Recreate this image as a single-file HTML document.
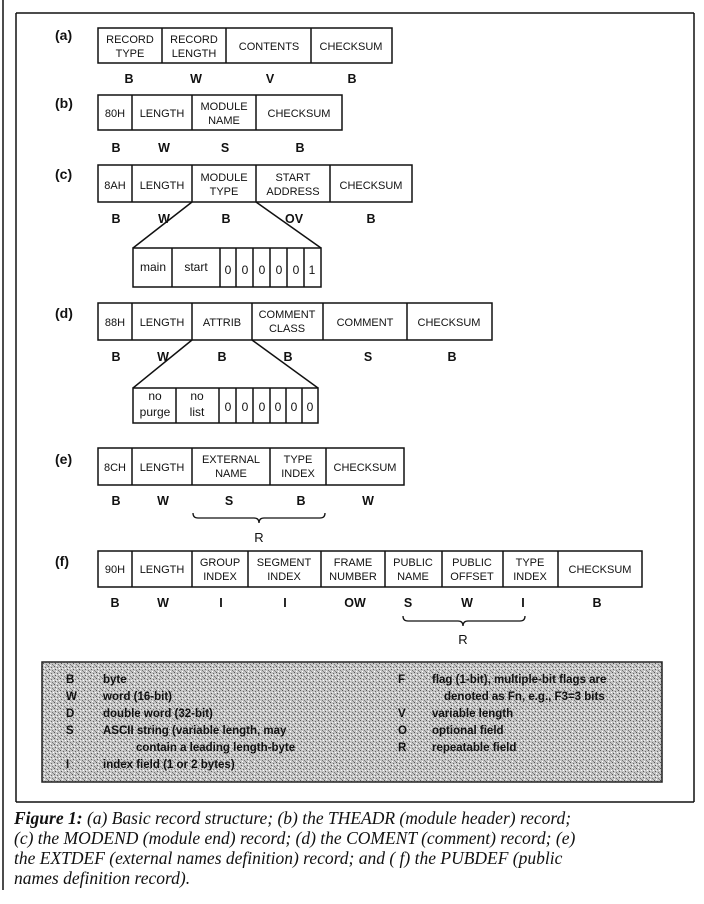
<!DOCTYPE html>
<html><head><meta charset="utf-8"><style>
html,body{margin:0;padding:0;background:#fff;}
svg{display:block;}
.c{font-family:"Liberation Sans",sans-serif;font-size:11px;fill:#111;text-anchor:middle;}
.l{font-family:"Liberation Sans",sans-serif;font-size:12.5px;font-weight:bold;fill:#111;text-anchor:middle;}
.p{font-family:"Liberation Sans",sans-serif;font-size:14px;font-weight:bold;fill:#111;}
.g{font-family:"Liberation Sans",sans-serif;font-size:11.5px;font-weight:bold;fill:#111;}
.cap{font-family:"Liberation Serif",serif;font-size:17.5px;font-style:italic;fill:#111;}
rect.b{fill:#fff;stroke:#111;stroke-width:1.5;}
line{stroke:#111;stroke-width:1.5;}
</style></head><body>
<svg width="704" height="904" viewBox="0 0 704 904" xmlns="http://www.w3.org/2000/svg">
<defs>
<pattern id="st" width="6" height="6" patternUnits="userSpaceOnUse">
<rect width="6" height="6" fill="#c4c4c4"/>
<rect x="0" y="0" width="1" height="1" fill="#555"/><rect x="3" y="1" width="1" height="1" fill="#666"/>
<rect x="1" y="3" width="1" height="1" fill="#555"/><rect x="4" y="4" width="1" height="1" fill="#777"/>
<rect x="5" y="2" width="1" height="1" fill="#fff"/><rect x="2" y="5" width="1" height="1" fill="#fff"/>
<rect x="2" y="2" width="1" height="1" fill="#eee"/><rect x="5" y="5" width="1" height="1" fill="#888"/>
</pattern>
</defs>
<!-- frame -->
<line x1="3" y1="0" x2="3" y2="890" stroke-width="2"/>
<line x1="16" y1="13" x2="694" y2="13"/>
<line x1="16" y1="13" x2="16" y2="802"/>
<line x1="694" y1="13" x2="694" y2="802"/>
<line x1="16" y1="802" x2="694" y2="802"/>

<!-- (a) -->
<text class="p" x="55" y="40">(a)</text>
<rect class="b" x="98" y="28" width="294" height="35"/>
<line x1="162" y1="28" x2="162" y2="63"/><line x1="226" y1="28" x2="226" y2="63"/><line x1="311" y1="28" x2="311" y2="63"/>
<text class="c" x="130" y="43">RECORD</text><text class="c" x="130" y="57">TYPE</text>
<text class="c" x="194" y="43">RECORD</text><text class="c" x="194" y="57">LENGTH</text>
<text class="c" x="269" y="50">CONTENTS</text><text class="c" x="351" y="50">CHECKSUM</text>
<text class="l" x="129" y="83">B</text><text class="l" x="196" y="83">W</text><text class="l" x="270" y="83">V</text><text class="l" x="352" y="83">B</text>

<!-- (b) -->
<text class="p" x="55" y="108">(b)</text>
<rect class="b" x="98" y="95" width="244" height="35"/>
<line x1="132" y1="95" x2="132" y2="130"/><line x1="192" y1="95" x2="192" y2="130"/><line x1="256" y1="95" x2="256" y2="130"/>
<text class="c" x="115" y="117">80H</text><text class="c" x="162" y="117">LENGTH</text>
<text class="c" x="224" y="110">MODULE</text><text class="c" x="224" y="124">NAME</text>
<text class="c" x="299" y="117">CHECKSUM</text>
<text class="l" x="116" y="152">B</text><text class="l" x="164" y="152">W</text><text class="l" x="225" y="152">S</text><text class="l" x="300" y="152">B</text>

<!-- (c) -->
<text class="p" x="55" y="179">(c)</text>
<rect class="b" x="98" y="165" width="314" height="37"/>
<line x1="132" y1="165" x2="132" y2="202"/><line x1="192" y1="165" x2="192" y2="202"/><line x1="256" y1="165" x2="256" y2="202"/><line x1="330" y1="165" x2="330" y2="202"/>
<text class="c" x="115" y="189">8AH</text><text class="c" x="162" y="189">LENGTH</text>
<text class="c" x="224" y="181">MODULE</text><text class="c" x="224" y="195">TYPE</text>
<text class="c" x="293" y="181">START</text><text class="c" x="293" y="195">ADDRESS</text>
<text class="c" x="371" y="189">CHECKSUM</text>
<text class="l" x="116" y="223">B</text><text class="l" x="164" y="223">W</text><text class="l" x="226" y="223">B</text><text class="l" x="294" y="223">OV</text><text class="l" x="371" y="223">B</text>
<line x1="192" y1="202" x2="133" y2="248"/><line x1="256" y1="202" x2="321" y2="248"/>
<rect class="b" x="133" y="248" width="188" height="39"/>
<line x1="172" y1="248" x2="172" y2="287"/><line x1="220" y1="248" x2="220" y2="287"/><line x1="236" y1="248" x2="236" y2="287"/><line x1="253" y1="248" x2="253" y2="287"/><line x1="270" y1="248" x2="270" y2="287"/><line x1="287" y1="248" x2="287" y2="287"/><line x1="304" y1="248" x2="304" y2="287"/>
<text class="c" x="153" y="271" style="font-size:12px">main</text><text class="c" x="196" y="271" style="font-size:12px">start</text>
<text class="c" x="228" y="274" style="font-size:12px">0</text><text class="c" x="245" y="274" style="font-size:12px">0</text><text class="c" x="262" y="274" style="font-size:12px">0</text><text class="c" x="279" y="274" style="font-size:12px">0</text><text class="c" x="296" y="274" style="font-size:12px">0</text><text class="c" x="312" y="274" style="font-size:12px">1</text>

<!-- (d) -->
<text class="p" x="55" y="318">(d)</text>
<rect class="b" x="98" y="303" width="394" height="37"/>
<line x1="132" y1="303" x2="132" y2="340"/><line x1="192" y1="303" x2="192" y2="340"/><line x1="252" y1="303" x2="252" y2="340"/><line x1="323" y1="303" x2="323" y2="340"/><line x1="407" y1="303" x2="407" y2="340"/>
<text class="c" x="115" y="326">88H</text><text class="c" x="162" y="326">LENGTH</text><text class="c" x="222" y="326">ATTRIB</text>
<text class="c" x="287" y="318">COMMENT</text><text class="c" x="287" y="332">CLASS</text>
<text class="c" x="365" y="326">COMMENT</text><text class="c" x="449" y="326">CHECKSUM</text>
<text class="l" x="116" y="361">B</text><text class="l" x="163" y="361">W</text><text class="l" x="222" y="361">B</text><text class="l" x="288" y="361">B</text><text class="l" x="368" y="361">S</text><text class="l" x="452" y="361">B</text>
<line x1="192" y1="340" x2="133" y2="388"/><line x1="252" y1="340" x2="318" y2="388"/>
<rect class="b" x="133" y="388" width="185" height="35"/>
<line x1="176" y1="388" x2="176" y2="423"/><line x1="219" y1="388" x2="219" y2="423"/><line x1="236" y1="388" x2="236" y2="423"/><line x1="253" y1="388" x2="253" y2="423"/><line x1="270" y1="388" x2="270" y2="423"/><line x1="286" y1="388" x2="286" y2="423"/><line x1="302" y1="388" x2="302" y2="423"/>
<text class="c" x="155" y="400" style="font-size:12px">no</text><text class="c" x="155" y="416" style="font-size:12px">purge</text>
<text class="c" x="197" y="400" style="font-size:12px">no</text><text class="c" x="197" y="416" style="font-size:12px">list</text>
<text class="c" x="228" y="411" style="font-size:12px">0</text><text class="c" x="245" y="411" style="font-size:12px">0</text><text class="c" x="262" y="411" style="font-size:12px">0</text><text class="c" x="278" y="411" style="font-size:12px">0</text><text class="c" x="294" y="411" style="font-size:12px">0</text><text class="c" x="310" y="411" style="font-size:12px">0</text>

<!-- (e) -->
<text class="p" x="55" y="464">(e)</text>
<rect class="b" x="98" y="448" width="306" height="37"/>
<line x1="132" y1="448" x2="132" y2="485"/><line x1="192" y1="448" x2="192" y2="485"/><line x1="270" y1="448" x2="270" y2="485"/><line x1="326" y1="448" x2="326" y2="485"/>
<text class="c" x="115" y="471">8CH</text><text class="c" x="162" y="471">LENGTH</text>
<text class="c" x="231" y="463">EXTERNAL</text><text class="c" x="231" y="477">NAME</text>
<text class="c" x="298" y="463">TYPE</text><text class="c" x="298" y="477">INDEX</text>
<text class="c" x="365" y="471">CHECKSUM</text>
<text class="l" x="116" y="505">B</text><text class="l" x="163" y="505">W</text><text class="l" x="229" y="505">S</text><text class="l" x="301" y="505">B</text><text class="l" x="368" y="505">W</text>
<path d="M193 513 Q193 518 198 518 L254 518 Q259 518 259 523 Q259 518 264 518 L320 518 Q325 518 325 513" fill="none" stroke="#111" stroke-width="1.3"/>
<text class="l" x="259" y="542" style="font-weight:normal;font-size:13px">R</text>

<!-- (f) -->
<text class="p" x="55" y="566">(f)</text>
<rect class="b" x="98" y="551" width="544" height="36"/>
<line x1="132" y1="551" x2="132" y2="587"/><line x1="192" y1="551" x2="192" y2="587"/><line x1="248" y1="551" x2="248" y2="587"/><line x1="321" y1="551" x2="321" y2="587"/><line x1="385" y1="551" x2="385" y2="587"/><line x1="442" y1="551" x2="442" y2="587"/><line x1="503" y1="551" x2="503" y2="587"/><line x1="558" y1="551" x2="558" y2="587"/>
<text class="c" x="115" y="573">90H</text><text class="c" x="162" y="573">LENGTH</text>
<text class="c" x="220" y="566">GROUP</text><text class="c" x="220" y="580">INDEX</text>
<text class="c" x="284" y="566">SEGMENT</text><text class="c" x="284" y="580">INDEX</text>
<text class="c" x="353" y="566">FRAME</text><text class="c" x="353" y="580">NUMBER</text>
<text class="c" x="413" y="566">PUBLIC</text><text class="c" x="413" y="580">NAME</text>
<text class="c" x="472" y="566">PUBLIC</text><text class="c" x="472" y="580">OFFSET</text>
<text class="c" x="530" y="566">TYPE</text><text class="c" x="530" y="580">INDEX</text>
<text class="c" x="600" y="573">CHECKSUM</text>
<text class="l" x="115" y="607">B</text><text class="l" x="163" y="607">W</text><text class="l" x="221" y="607">I</text><text class="l" x="285" y="607">I</text><text class="l" x="355" y="607">OW</text><text class="l" x="408" y="607">S</text><text class="l" x="467" y="607">W</text><text class="l" x="523" y="607">I</text><text class="l" x="597" y="607">B</text>
<path d="M403 616 Q403 621 408 621 L458 621 Q463 621 463 626 Q463 621 468 621 L520 621 Q525 621 525 616" fill="none" stroke="#111" stroke-width="1.3"/>
<text class="l" x="463" y="644" style="font-weight:normal;font-size:13px">R</text>

<!-- legend -->
<rect x="42" y="662" width="620" height="120" fill="url(#st)" stroke="#222" stroke-width="1.5"/>
<g class="g">
<text x="66" y="683">B</text><text x="103" y="683">byte</text>
<text x="66" y="700">W</text><text x="103" y="700">word (16-bit)</text>
<text x="66" y="717">D</text><text x="103" y="717">double word (32-bit)</text>
<text x="66" y="734">S</text><text x="103" y="734">ASCII string (variable length, may</text>
<text x="136" y="751">contain a leading length-byte</text>
<text x="66" y="768">I</text><text x="103" y="768">index field (1 or 2 bytes)</text>
<text x="398" y="683">F</text><text x="432" y="683">flag (1-bit), multiple-bit flags are</text>
<text x="444" y="700">denoted as Fn, e.g., F3=3 bits</text>
<text x="398" y="717">V</text><text x="432" y="717">variable length</text>
<text x="398" y="734">O</text><text x="432" y="734">optional field</text>
<text x="398" y="751">R</text><text x="432" y="751">repeatable field</text>
</g>

<!-- caption -->
<text class="cap" x="14" y="824"><tspan font-weight="bold">Figure 1:</tspan> (a) Basic record structure; (b) the THEADR (module header) record;</text>
<text class="cap" x="14" y="844">(c) the MODEND (module end) record; (d) the COMENT (comment) record; (e)</text>
<text class="cap" x="14" y="864">the EXTDEF (external names definition) record; and ( f) the PUBDEF (public</text>
<text class="cap" x="14" y="884">names definition record).</text>
</svg>
</body></html>
